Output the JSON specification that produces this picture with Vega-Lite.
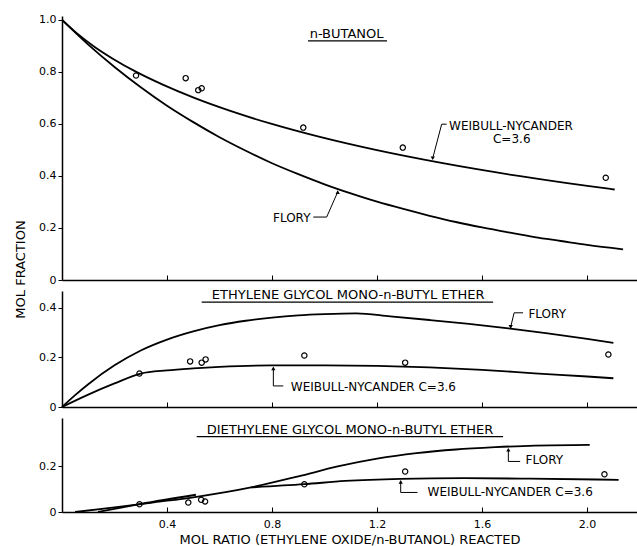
{
  "$schema": "https://vega.github.io/schema/vega-lite/v6.json",
  "padding": {"left": 14, "top": 13, "right": 0, "bottom": 0},
  "autosize": {"type": "pad"},
  "background": "white",
  "spacing": 11,
  "bounds": "flush",
  "config": {
    "view": {"stroke": null},
    "font": "DejaVu Sans",
    "axis": {"domainColor": "black", "domainWidth": 1.5, "tickColor": "black", "tickWidth": 1, "labelColor": "black", "titleColor": "black", "labelFont": "DejaVu Sans", "labelFontSize": 11, "titleFont": "DejaVu Sans", "titleFontSize": 13, "titleFontWeight": "normal", "grid": false}
  },
  "datasets": {
    "curves": [
      {"panel": "top", "series": "F", "x": 0, "y": 1.0},
      {"panel": "top", "series": "F", "x": 0.1, "y": 0.905},
      {"panel": "top", "series": "F", "x": 0.2, "y": 0.819},
      {"panel": "top", "series": "F", "x": 0.3, "y": 0.741},
      {"panel": "top", "series": "F", "x": 0.4, "y": 0.670},
      {"panel": "top", "series": "F", "x": 0.5, "y": 0.607},
      {"panel": "top", "series": "F", "x": 0.6, "y": 0.549},
      {"panel": "top", "series": "F", "x": 0.7, "y": 0.497},
      {"panel": "top", "series": "F", "x": 0.8, "y": 0.449},
      {"panel": "top", "series": "F", "x": 0.9, "y": 0.407},
      {"panel": "top", "series": "F", "x": 1.0, "y": 0.368},
      {"panel": "top", "series": "F", "x": 1.1, "y": 0.333},
      {"panel": "top", "series": "F", "x": 1.2, "y": 0.301},
      {"panel": "top", "series": "F", "x": 1.3, "y": 0.273},
      {"panel": "top", "series": "F", "x": 1.4, "y": 0.247},
      {"panel": "top", "series": "F", "x": 1.5, "y": 0.223},
      {"panel": "top", "series": "F", "x": 1.6, "y": 0.202},
      {"panel": "top", "series": "F", "x": 1.7, "y": 0.183},
      {"panel": "top", "series": "F", "x": 1.8, "y": 0.165},
      {"panel": "top", "series": "F", "x": 1.9, "y": 0.150},
      {"panel": "top", "series": "F", "x": 2.0, "y": 0.135},
      {"panel": "top", "series": "F", "x": 2.137, "y": 0.118},
      {"panel": "top", "series": "W", "x": 0, "y": 1.0},
      {"panel": "top", "series": "W", "x": 0.055, "y": 0.95},
      {"panel": "top", "series": "W", "x": 0.119, "y": 0.90},
      {"panel": "top", "series": "W", "x": 0.195, "y": 0.85},
      {"panel": "top", "series": "W", "x": 0.283, "y": 0.80},
      {"panel": "top", "series": "W", "x": 0.386, "y": 0.75},
      {"panel": "top", "series": "W", "x": 0.504, "y": 0.70},
      {"panel": "top", "series": "W", "x": 0.641, "y": 0.65},
      {"panel": "top", "series": "W", "x": 0.799, "y": 0.60},
      {"panel": "top", "series": "W", "x": 0.982, "y": 0.55},
      {"panel": "top", "series": "W", "x": 1.195, "y": 0.50},
      {"panel": "top", "series": "W", "x": 1.445, "y": 0.45},
      {"panel": "top", "series": "W", "x": 1.739, "y": 0.40},
      {"panel": "top", "series": "W", "x": 2.089, "y": 0.35},
      {"panel": "top", "series": "W", "x": 2.105, "y": 0.348},
      {"panel": "mid", "series": "F", "x": 0, "y": 0},
      {"panel": "mid", "series": "F", "x": 0.05, "y": 0.048},
      {"panel": "mid", "series": "F", "x": 0.1, "y": 0.092},
      {"panel": "mid", "series": "F", "x": 0.2, "y": 0.168},
      {"panel": "mid", "series": "F", "x": 0.3, "y": 0.228},
      {"panel": "mid", "series": "F", "x": 0.4, "y": 0.272},
      {"panel": "mid", "series": "F", "x": 0.5, "y": 0.305},
      {"panel": "mid", "series": "F", "x": 0.6, "y": 0.330},
      {"panel": "mid", "series": "F", "x": 0.7, "y": 0.348},
      {"panel": "mid", "series": "F", "x": 0.8, "y": 0.361},
      {"panel": "mid", "series": "F", "x": 0.9, "y": 0.370},
      {"panel": "mid", "series": "F", "x": 1.0, "y": 0.375},
      {"panel": "mid", "series": "F", "x": 1.12, "y": 0.378},
      {"panel": "mid", "series": "F", "x": 1.25, "y": 0.366},
      {"panel": "mid", "series": "F", "x": 1.4, "y": 0.351},
      {"panel": "mid", "series": "F", "x": 1.55, "y": 0.335},
      {"panel": "mid", "series": "F", "x": 1.7, "y": 0.317},
      {"panel": "mid", "series": "F", "x": 1.85, "y": 0.297},
      {"panel": "mid", "series": "F", "x": 2.0, "y": 0.275},
      {"panel": "mid", "series": "F", "x": 2.1, "y": 0.259},
      {"panel": "mid", "series": "W", "x": 0, "y": 0},
      {"panel": "mid", "series": "W", "x": 0.1, "y": 0.05},
      {"panel": "mid", "series": "W", "x": 0.2, "y": 0.095},
      {"panel": "mid", "series": "W", "x": 0.3, "y": 0.135},
      {"panel": "mid", "series": "W", "x": 0.4, "y": 0.148},
      {"panel": "mid", "series": "W", "x": 0.5, "y": 0.156},
      {"panel": "mid", "series": "W", "x": 0.6, "y": 0.162},
      {"panel": "mid", "series": "W", "x": 0.8, "y": 0.168},
      {"panel": "mid", "series": "W", "x": 1.0, "y": 0.168},
      {"panel": "mid", "series": "W", "x": 1.2, "y": 0.166},
      {"panel": "mid", "series": "W", "x": 1.4, "y": 0.160},
      {"panel": "mid", "series": "W", "x": 1.6, "y": 0.150},
      {"panel": "mid", "series": "W", "x": 1.8, "y": 0.136},
      {"panel": "mid", "series": "W", "x": 2.0, "y": 0.123},
      {"panel": "mid", "series": "W", "x": 2.1, "y": 0.116},
      {"panel": "bot", "series": "F", "x": 0.05, "y": 0},
      {"panel": "bot", "series": "F", "x": 0.2, "y": 0.02},
      {"panel": "bot", "series": "F", "x": 0.35, "y": 0.042},
      {"panel": "bot", "series": "F", "x": 0.5, "y": 0.064},
      {"panel": "bot", "series": "F", "x": 0.72, "y": 0.107},
      {"panel": "bot", "series": "F", "x": 0.9, "y": 0.155},
      {"panel": "bot", "series": "F", "x": 1.05, "y": 0.198},
      {"panel": "bot", "series": "F", "x": 1.2, "y": 0.232},
      {"panel": "bot", "series": "F", "x": 1.35, "y": 0.256},
      {"panel": "bot", "series": "F", "x": 1.5, "y": 0.272},
      {"panel": "bot", "series": "F", "x": 1.65, "y": 0.282},
      {"panel": "bot", "series": "F", "x": 1.8, "y": 0.289},
      {"panel": "bot", "series": "F", "x": 2.01, "y": 0.292},
      {"panel": "bot", "series": "W1", "x": 0.137, "y": 0},
      {"panel": "bot", "series": "W1", "x": 0.3, "y": 0.035},
      {"panel": "bot", "series": "W1", "x": 0.51, "y": 0.075},
      {"panel": "bot", "series": "W2", "x": 0.72, "y": 0.107},
      {"panel": "bot", "series": "W2", "x": 0.923, "y": 0.121},
      {"panel": "bot", "series": "W2", "x": 1.078, "y": 0.135},
      {"panel": "bot", "series": "W2", "x": 1.29, "y": 0.144},
      {"panel": "bot", "series": "W2", "x": 1.53, "y": 0.147},
      {"panel": "bot", "series": "W2", "x": 1.78, "y": 0.145},
      {"panel": "bot", "series": "W2", "x": 2.12, "y": 0.14}
    ],
    "points": [
      {"panel": "top", "x": 0.282, "y": 0.786},
      {"panel": "top", "x": 0.471, "y": 0.776},
      {"panel": "top", "x": 0.519, "y": 0.730},
      {"panel": "top", "x": 0.532, "y": 0.737},
      {"panel": "top", "x": 0.919, "y": 0.586},
      {"panel": "top", "x": 1.298, "y": 0.509},
      {"panel": "top", "x": 2.071, "y": 0.393},
      {"panel": "mid", "x": 0.295, "y": 0.135},
      {"panel": "mid", "x": 0.488, "y": 0.184},
      {"panel": "mid", "x": 0.532, "y": 0.179},
      {"panel": "mid", "x": 0.547, "y": 0.192},
      {"panel": "mid", "x": 0.923, "y": 0.208},
      {"panel": "mid", "x": 1.307, "y": 0.179},
      {"panel": "mid", "x": 2.081, "y": 0.212},
      {"panel": "bot", "x": 0.295, "y": 0.034},
      {"panel": "bot", "x": 0.481, "y": 0.041},
      {"panel": "bot", "x": 0.530, "y": 0.053},
      {"panel": "bot", "x": 0.545, "y": 0.046},
      {"panel": "bot", "x": 0.923, "y": 0.121},
      {"panel": "bot", "x": 1.307, "y": 0.176},
      {"panel": "bot", "x": 2.066, "y": 0.164}
    ],
    "titles": [
      {"panel": "top", "text": "n-BUTANOL", "x": 1.084, "y": 0.946},
      {"panel": "mid", "text": "ETHYLENE GLYCOL MONO-n-BUTYL ETHER", "x": 1.09, "y": 0.452},
      {"panel": "bot", "text": "DIETHYLENE GLYCOL MONO-n-BUTYL ETHER", "x": 1.097, "y": 0.357}
    ],
    "notes": [
      {"panel": "top", "text": "WEIBULL-NYCANDER", "x": 1.71, "y": 0.592},
      {"panel": "top", "text": "C=3.6", "x": 1.713, "y": 0.543},
      {"panel": "top", "text": "FLORY", "x": 0.875, "y": 0.240},
      {"panel": "mid", "text": "FLORY", "x": 1.848, "y": 0.374},
      {"panel": "mid", "text": "WEIBULL-NYCANDER  C=3.6", "x": 1.186, "y": 0.082},
      {"panel": "bot", "text": "FLORY", "x": 1.837, "y": 0.227},
      {"panel": "bot", "text": "WEIBULL-NYCANDER  C=3.6", "x": 1.707, "y": 0.085}
    ],
    "underlines": [
      {"panel": "top", "x": 0.937, "x2": 1.238, "y": 0.919},
      {"panel": "mid", "x": 0.532, "x2": 1.642, "y": 0.423},
      {"panel": "bot", "x": 0.513, "x2": 1.68, "y": 0.328}
    ],
    "leaders": [
      {"panel": "top", "id": "tw", "o": 1, "x": 1.465, "y": 0.599},
      {"panel": "top", "id": "tw", "o": 2, "x": 1.446, "y": 0.599},
      {"panel": "top", "id": "tw", "o": 3, "x": 1.412, "y": 0.468},
      {"panel": "top", "id": "tf", "o": 1, "x": 0.957, "y": 0.242},
      {"panel": "top", "id": "tf", "o": 2, "x": 1.008, "y": 0.242},
      {"panel": "top", "id": "tf", "o": 3, "x": 1.050, "y": 0.338},
      {"panel": "mid", "id": "mf", "o": 1, "x": 1.756, "y": 0.38},
      {"panel": "mid", "id": "mf", "o": 2, "x": 1.722, "y": 0.38},
      {"panel": "mid", "id": "mf", "o": 3, "x": 1.709, "y": 0.323},
      {"panel": "mid", "id": "mw", "o": 1, "x": 0.843, "y": 0.085},
      {"panel": "mid", "id": "mw", "o": 2, "x": 0.805, "y": 0.085},
      {"panel": "mid", "id": "mw", "o": 3, "x": 0.805, "y": 0.156},
      {"panel": "bot", "id": "bf", "o": 1, "x": 1.745, "y": 0.22},
      {"panel": "bot", "id": "bf", "o": 2, "x": 1.70, "y": 0.22},
      {"panel": "bot", "id": "bf", "o": 3, "x": 1.70, "y": 0.271},
      {"panel": "bot", "id": "bw", "o": 1, "x": 1.354, "y": 0.085},
      {"panel": "bot", "id": "bw", "o": 2, "x": 1.29, "y": 0.085},
      {"panel": "bot", "id": "bw", "o": 3, "x": 1.29, "y": 0.131}
    ],
    "arrows": [
      {"panel": "top", "dir": "down", "x": 1.412, "y": 0.468},
      {"panel": "top", "dir": "up", "x": 1.050, "y": 0.338},
      {"panel": "mid", "dir": "down", "x": 1.709, "y": 0.323},
      {"panel": "mid", "dir": "up", "x": 0.805, "y": 0.156},
      {"panel": "bot", "dir": "up", "x": 1.70, "y": 0.271},
      {"panel": "bot", "dir": "up", "x": 1.29, "y": 0.131}
    ]
  },
  "vconcat": [
    {
      "width": 575,
      "height": 264,
      "encoding": {
        "x": {"field": "x", "type": "quantitative", "scale": {"domain": [0, 2.19], "nice": false, "zero": false},
              "axis": {"values": [0.4, 0.8, 1.2, 1.6, 2.0], "labels": false, "title": null, "tickSize": -5}},
        "y": {"field": "y", "type": "quantitative", "scale": {"domain": [0, 1.015], "nice": false},
              "axis": {"values": [0, 0.2, 0.4, 0.6, 0.8, 1.0], "labelExpr": "datum.value == 0 ? '0' : format(datum.value, '.1f')", "tickSize": 4, "labelPadding": 2,
                       "title": "MOL FRACTION", "titleAngle": 270, "titleX": -42, "titleY": 253, "titleAlign": "center", "titleBaseline": "middle"}}
      },
      "layer": [
        {"data": {"name": "curves"}, "transform": [{"filter": "datum.panel == 'top'"}], "mark": {"type": "line", "color": "black", "strokeWidth": 1.8, "interpolate": "monotone"}, "encoding": {"detail": {"field": "series"}}},
        {"data": {"name": "points"}, "transform": [{"filter": "datum.panel == 'top'"}], "mark": {"type": "point", "shape": "circle", "filled": false, "color": "black", "size": 28, "strokeWidth": 1.2, "opacity": 1}},
        {"data": {"name": "leaders"}, "transform": [{"filter": "datum.panel == 'top'"}], "mark": {"type": "line", "color": "black", "strokeWidth": 1}, "encoding": {"detail": {"field": "id"}, "order": {"field": "o"}}},
        {"data": {"name": "arrows"}, "transform": [{"filter": "datum.panel == 'top' && datum.dir == 'up'"}], "mark": {"type": "point", "shape": "triangle-up", "filled": true, "color": "black", "size": 18, "opacity": 1}},
        {"data": {"name": "arrows"}, "transform": [{"filter": "datum.panel == 'top' && datum.dir == 'down'"}], "mark": {"type": "point", "shape": "triangle-down", "filled": true, "color": "black", "size": 18, "opacity": 1}},
        {"data": {"name": "underlines"}, "transform": [{"filter": "datum.panel == 'top'"}], "mark": {"type": "rule", "color": "black", "strokeWidth": 1.3}, "encoding": {"x2": {"field": "x2"}}},
        {"data": {"name": "titles"}, "transform": [{"filter": "datum.panel == 'top'"}], "mark": {"type": "text", "font": "DejaVu Sans", "fontSize": 13, "color": "black", "baseline": "middle"}, "encoding": {"text": {"field": "text"}}},
        {"data": {"name": "notes"}, "transform": [{"filter": "datum.panel == 'top'"}], "mark": {"type": "text", "font": "DejaVu Sans", "fontSize": 12, "color": "black", "baseline": "middle"}, "encoding": {"text": {"field": "text"}}}
      ]
    },
    {
      "width": 575,
      "height": 116,
      "encoding": {
        "x": {"field": "x", "type": "quantitative", "scale": {"domain": [0, 2.19], "nice": false, "zero": false},
              "axis": {"values": [0.4, 0.8, 1.2, 1.6, 2.0], "labels": false, "title": null, "tickSize": -5}},
        "y": {"field": "y", "type": "quantitative", "scale": {"domain": [0, 0.468], "nice": false},
              "axis": {"values": [0, 0.2, 0.4], "labelExpr": "datum.value == 0 ? '0' : format(datum.value, '.1f')", "tickSize": 4, "labelPadding": 2, "title": null}}
      },
      "layer": [
        {"data": {"name": "curves"}, "transform": [{"filter": "datum.panel == 'mid'"}], "mark": {"type": "line", "color": "black", "strokeWidth": 1.8, "interpolate": "monotone"}, "encoding": {"detail": {"field": "series"}}},
        {"data": {"name": "points"}, "transform": [{"filter": "datum.panel == 'mid'"}], "mark": {"type": "point", "shape": "circle", "filled": false, "color": "black", "size": 28, "strokeWidth": 1.2, "opacity": 1}},
        {"data": {"name": "leaders"}, "transform": [{"filter": "datum.panel == 'mid'"}], "mark": {"type": "line", "color": "black", "strokeWidth": 1}, "encoding": {"detail": {"field": "id"}, "order": {"field": "o"}}},
        {"data": {"name": "arrows"}, "transform": [{"filter": "datum.panel == 'mid' && datum.dir == 'up'"}], "mark": {"type": "point", "shape": "triangle-up", "filled": true, "color": "black", "size": 18, "opacity": 1}},
        {"data": {"name": "arrows"}, "transform": [{"filter": "datum.panel == 'mid' && datum.dir == 'down'"}], "mark": {"type": "point", "shape": "triangle-down", "filled": true, "color": "black", "size": 18, "opacity": 1}},
        {"data": {"name": "underlines"}, "transform": [{"filter": "datum.panel == 'mid'"}], "mark": {"type": "rule", "color": "black", "strokeWidth": 1.3}, "encoding": {"x2": {"field": "x2"}}},
        {"data": {"name": "titles"}, "transform": [{"filter": "datum.panel == 'mid'"}], "mark": {"type": "text", "font": "DejaVu Sans", "fontSize": 13, "color": "black", "baseline": "middle"}, "encoding": {"text": {"field": "text"}}},
        {"data": {"name": "notes"}, "transform": [{"filter": "datum.panel == 'mid'"}], "mark": {"type": "text", "font": "DejaVu Sans", "fontSize": 12, "color": "black", "baseline": "middle"}, "encoding": {"text": {"field": "text"}}}
      ]
    },
    {
      "width": 575,
      "height": 94,
      "encoding": {
        "x": {"field": "x", "type": "quantitative", "scale": {"domain": [0, 2.19], "nice": false, "zero": false},
              "axis": {"values": [0.4, 0.8, 1.2, 1.6, 2.0], "labelExpr": "format(datum.value, '.1f')", "tickSize": -5, "labelPadding": 11, "titlePadding": 4,
                       "title": "MOL RATIO (ETHYLENE OXIDE/n-BUTANOL) REACTED"}},
        "y": {"field": "y", "type": "quantitative", "scale": {"domain": [0, 0.409], "nice": false},
              "axis": {"values": [0, 0.2], "labelExpr": "datum.value == 0 ? '0' : format(datum.value, '.1f')", "tickSize": 4, "labelPadding": 2, "title": null}}
      },
      "layer": [
        {"data": {"name": "curves"}, "transform": [{"filter": "datum.panel == 'bot'"}], "mark": {"type": "line", "color": "black", "strokeWidth": 1.8, "interpolate": "monotone"}, "encoding": {"detail": {"field": "series"}}},
        {"data": {"name": "points"}, "transform": [{"filter": "datum.panel == 'bot'"}], "mark": {"type": "point", "shape": "circle", "filled": false, "color": "black", "size": 28, "strokeWidth": 1.2, "opacity": 1}},
        {"data": {"name": "leaders"}, "transform": [{"filter": "datum.panel == 'bot'"}], "mark": {"type": "line", "color": "black", "strokeWidth": 1}, "encoding": {"detail": {"field": "id"}, "order": {"field": "o"}}},
        {"data": {"name": "arrows"}, "transform": [{"filter": "datum.panel == 'bot' && datum.dir == 'up'"}], "mark": {"type": "point", "shape": "triangle-up", "filled": true, "color": "black", "size": 18, "opacity": 1}},
        {"data": {"name": "underlines"}, "transform": [{"filter": "datum.panel == 'bot'"}], "mark": {"type": "rule", "color": "black", "strokeWidth": 1.3}, "encoding": {"x2": {"field": "x2"}}},
        {"data": {"name": "titles"}, "transform": [{"filter": "datum.panel == 'bot'"}], "mark": {"type": "text", "font": "DejaVu Sans", "fontSize": 13, "color": "black", "baseline": "middle"}, "encoding": {"text": {"field": "text"}}},
        {"data": {"name": "notes"}, "transform": [{"filter": "datum.panel == 'bot'"}], "mark": {"type": "text", "font": "DejaVu Sans", "fontSize": 12, "color": "black", "baseline": "middle"}, "encoding": {"text": {"field": "text"}}}
      ]
    }
  ]
}
